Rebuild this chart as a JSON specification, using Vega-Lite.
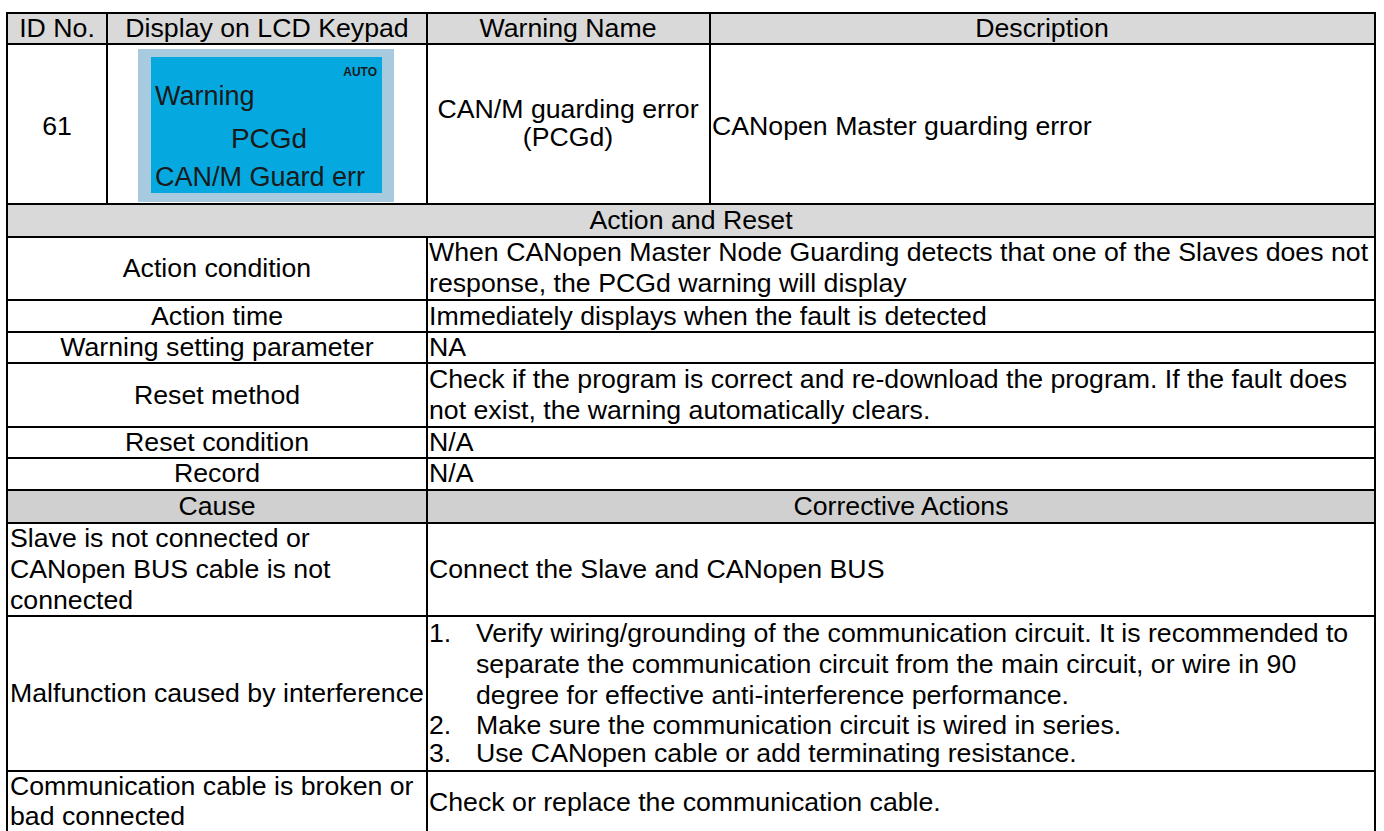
{
  "$schema": "https://vega.github.io/schema/vega-lite/v6.json",
  "width": 1384,
  "height": 831,
  "padding": 0,
  "autosize": {"type": "none"},
  "background": "white",
  "config": {"view": {"stroke": null}},
  "datasets": {
    "fills": [
      {"kind": "header", "x1": 7, "x2": 1375, "y1": 13, "y2": 44},
      {"kind": "section", "x1": 7, "x2": 1375, "y1": 204, "y2": 237},
      {"kind": "cause", "x1": 7, "x2": 1375, "y1": 490, "y2": 523},
      {"kind": "lcdFrame", "x1": 138, "x2": 394, "y1": 49, "y2": 202},
      {"kind": "lcdScreen", "x1": 151, "x2": 382, "y1": 57, "y2": 193}
    ],
    "lines": [
      {"x1": 7, "x2": 1375, "y1": 13, "y2": 13},
      {"x1": 7, "x2": 1375, "y1": 44, "y2": 44},
      {"x1": 7, "x2": 1375, "y1": 204, "y2": 204},
      {"x1": 7, "x2": 1375, "y1": 237, "y2": 237},
      {"x1": 7, "x2": 1375, "y1": 300, "y2": 300},
      {"x1": 7, "x2": 1375, "y1": 332, "y2": 332},
      {"x1": 7, "x2": 1375, "y1": 363, "y2": 363},
      {"x1": 7, "x2": 1375, "y1": 427, "y2": 427},
      {"x1": 7, "x2": 1375, "y1": 458, "y2": 458},
      {"x1": 7, "x2": 1375, "y1": 490, "y2": 490},
      {"x1": 7, "x2": 1375, "y1": 523, "y2": 523},
      {"x1": 7, "x2": 1375, "y1": 616, "y2": 616},
      {"x1": 7, "x2": 1375, "y1": 771, "y2": 771},
      {"x1": 7, "x2": 7, "y1": 13, "y2": 831},
      {"x1": 1375, "x2": 1375, "y1": 13, "y2": 831},
      {"x1": 107, "x2": 107, "y1": 13, "y2": 204},
      {"x1": 427, "x2": 427, "y1": 13, "y2": 204},
      {"x1": 710, "x2": 710, "y1": 13, "y2": 204},
      {"x1": 427, "x2": 427, "y1": 237, "y2": 831}
    ],
    "centered": [
      {"x": 57, "y": 29, "t": "ID No."},
      {"x": 267, "y": 29, "t": "Display on LCD Keypad"},
      {"x": 568, "y": 29, "t": "Warning Name"},
      {"x": 1042, "y": 29, "t": "Description"},
      {"x": 57, "y": 127, "t": "61"},
      {"x": 568, "y": 110, "t": "CAN/M guarding error"},
      {"x": 568, "y": 138, "t": "(PCGd)"},
      {"x": 691, "y": 221, "t": "Action and Reset"},
      {"x": 217, "y": 269, "t": "Action condition"},
      {"x": 217, "y": 317, "t": "Action time"},
      {"x": 217, "y": 348, "t": "Warning setting parameter"},
      {"x": 217, "y": 396, "t": "Reset method"},
      {"x": 217, "y": 443, "t": "Reset condition"},
      {"x": 217, "y": 474, "t": "Record"},
      {"x": 217, "y": 507, "t": "Cause"},
      {"x": 901, "y": 507, "t": "Corrective Actions"}
    ],
    "left": [
      {"x": 712, "y": 127, "t": "CANopen Master guarding error"},
      {"x": 429, "y": 253, "t": "When CANopen Master Node Guarding detects that one of the Slaves does not"},
      {"x": 429, "y": 284, "t": "response, the PCGd warning will display"},
      {"x": 429, "y": 317, "t": "Immediately displays when the fault is detected"},
      {"x": 429, "y": 348, "t": "NA"},
      {"x": 429, "y": 380, "t": "Check if the program is correct and re-download the program. If the fault does"},
      {"x": 429, "y": 411, "t": "not exist, the warning automatically clears."},
      {"x": 429, "y": 443, "t": "N/A"},
      {"x": 429, "y": 474, "t": "N/A"},
      {"x": 10, "y": 539, "t": "Slave is not connected or"},
      {"x": 10, "y": 570, "t": "CANopen BUS cable is not"},
      {"x": 10, "y": 601, "t": "connected"},
      {"x": 429, "y": 570, "t": "Connect the Slave and CANopen BUS"},
      {"x": 10, "y": 694, "t": "Malfunction caused by interference"},
      {"x": 429, "y": 634, "t": "1."},
      {"x": 476, "y": 634, "t": "Verify wiring/grounding of the communication circuit. It is recommended to"},
      {"x": 476, "y": 665, "t": "separate the communication circuit from the main circuit, or wire in 90"},
      {"x": 476, "y": 696, "t": "degree for effective anti-interference performance."},
      {"x": 429, "y": 726, "t": "2."},
      {"x": 476, "y": 726, "t": "Make sure the communication circuit is wired in series."},
      {"x": 429, "y": 754, "t": "3."},
      {"x": 476, "y": 754, "t": "Use CANopen cable or add terminating resistance."},
      {"x": 10, "y": 787, "t": "Communication cable is broken or"},
      {"x": 10, "y": 817, "t": "bad connected"},
      {"x": 429, "y": 803, "t": "Check or replace the communication cable."}
    ],
    "lcdLeft": [
      {"x": 155, "y": 97, "t": "Warning"},
      {"x": 155, "y": 178, "t": "CAN/M Guard err"}
    ],
    "lcdCenter": [
      {"x": 269, "y": 140, "t": "PCGd"}
    ],
    "lcdAuto": [
      {"x": 377, "y": 72, "t": "AUTO"}
    ]
  },
  "layer": [
    {
      "data": {"name": "fills"},
      "mark": {"type": "rect"},
      "encoding": {
        "x": {"field": "x1", "type": "quantitative", "scale": {"domain": [0, 1384], "nice": false, "zero": false}, "axis": null},
        "x2": {"field": "x2"},
        "y": {"field": "y1", "type": "quantitative", "scale": {"domain": [0, 831], "reverse": true, "nice": false, "zero": false}, "axis": null},
        "y2": {"field": "y2"},
        "color": {"field": "kind", "type": "nominal", "legend": null,
          "scale": {"domain": ["header", "section", "cause", "lcdFrame", "lcdScreen"],
                    "range": ["#d9d9d9", "#d9d9d9", "#d0d0d0", "#a7cadf", "#05a9e0"]}}
      }
    },
    {
      "data": {"name": "lines"},
      "mark": {"type": "rule", "color": "#000000", "strokeWidth": 2, "strokeCap": "square"},
      "encoding": {
        "x": {"field": "x1", "type": "quantitative"},
        "x2": {"field": "x2"},
        "y": {"field": "y1", "type": "quantitative"},
        "y2": {"field": "y2"}
      }
    },
    {
      "data": {"name": "centered"},
      "mark": {"type": "text", "font": "Liberation Sans", "fontSize": 26.7, "align": "center", "baseline": "middle", "color": "#000000"},
      "encoding": {
        "x": {"field": "x", "type": "quantitative"},
        "y": {"field": "y", "type": "quantitative"},
        "text": {"field": "t"}
      }
    },
    {
      "data": {"name": "left"},
      "mark": {"type": "text", "font": "Liberation Sans", "fontSize": 26.7, "align": "left", "baseline": "middle", "color": "#000000"},
      "encoding": {
        "x": {"field": "x", "type": "quantitative"},
        "y": {"field": "y", "type": "quantitative"},
        "text": {"field": "t"}
      }
    },
    {
      "data": {"name": "lcdLeft"},
      "mark": {"type": "text", "font": "Liberation Sans", "fontSize": 27, "align": "left", "baseline": "middle", "color": "#1a1a1a"},
      "encoding": {
        "x": {"field": "x", "type": "quantitative"},
        "y": {"field": "y", "type": "quantitative"},
        "text": {"field": "t"}
      }
    },
    {
      "data": {"name": "lcdCenter"},
      "mark": {"type": "text", "font": "Liberation Sans", "fontSize": 28, "align": "center", "baseline": "middle", "color": "#1a1a1a"},
      "encoding": {
        "x": {"field": "x", "type": "quantitative"},
        "y": {"field": "y", "type": "quantitative"},
        "text": {"field": "t"}
      }
    },
    {
      "data": {"name": "lcdAuto"},
      "mark": {"type": "text", "font": "Liberation Sans", "fontSize": 12, "fontWeight": "bold", "align": "right", "baseline": "middle", "color": "#1a1a1a"},
      "encoding": {
        "x": {"field": "x", "type": "quantitative"},
        "y": {"field": "y", "type": "quantitative"},
        "text": {"field": "t"}
      }
    }
  ]
}
